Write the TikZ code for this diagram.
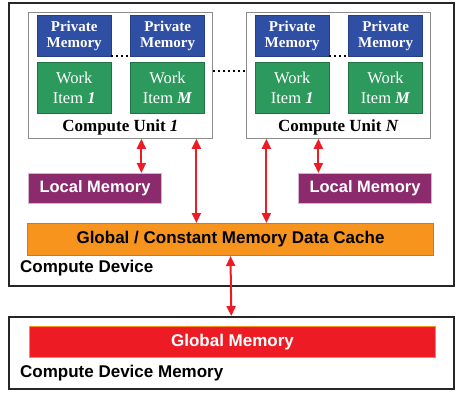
\documentclass[tikz,border=0pt]{standalone}
\usepackage{fontspec}
\setmainfont{Liberation Serif}
\setsansfont{Liberation Sans}
\usetikzlibrary{arrows.meta,positioning}

\definecolor{pmblue}{HTML}{2F4FA5}
\definecolor{wigreen}{HTML}{2B9A5C}
\definecolor{lmpurple}{HTML}{8C2A6E}
\definecolor{cacheorange}{HTML}{F7941D}
\definecolor{cacheedge}{HTML}{F26522}
\definecolor{gmred}{HTML}{ED1C24}

\tikzset{
  outerbox/.style={draw=black!85,line width=1.6pt,inner sep=0pt,anchor=north west},
  cubox/.style={draw=black!45,line width=0.8pt,fill=white,minimum width=184pt,
    minimum height=126pt,inner sep=0pt,anchor=north west},
  privmem/.style={draw=pmblue!80!black,fill=pmblue,text=white,minimum width=74pt,
    minimum height=41pt,align=center,inner sep=0pt,font=\fontsize{15}{16.5}\selectfont\bfseries},
  workitem/.style={draw=wigreen!75!black,fill=wigreen,text=white,minimum width=74pt,
    minimum height=51pt,align=center,inner sep=0pt,font=\fontsize{16.5}{20}\selectfont},
  localmem/.style={draw=lmpurple!35!white,line width=1pt,fill=lmpurple,text=white,
    minimum width=133pt,minimum height=30pt,inner sep=0pt,anchor=north west,
    font=\sffamily\bfseries\fontsize{16.5}{18}\selectfont},
  membar/.style={minimum width=406pt,minimum height=32pt,inner sep=0pt,line width=1pt,
    anchor=north west,font=\sffamily\bfseries\fontsize{17}{20}\selectfont},
  boxlabel/.style={anchor=west,inner sep=0pt,font=\sffamily\bfseries\fontsize{17}{20}\selectfont},
  unitlabel/.style={inner sep=0pt,font=\bfseries\fontsize{17}{18}\selectfont},
  link/.style={draw=gmred,line width=2pt,>={Triangle[width=9pt,length=10pt]},<->},
  gapdots/.style={line width=2pt,dash pattern=on 2pt off 3pt}
}

\begin{document}
\begin{tikzpicture}[x=1pt,y=-1pt]
\useasboundingbox (0,0) rectangle (474,407);
% outer frames
\node[outerbox,minimum width=445pt,minimum height=283pt] (device) at (8,2) {};
\node[outerbox,minimum width=445pt,minimum height=72pt] (devmem) at (8,316) {};
% compute units
\node[cubox] (cu1) at (28,12) {};
\node[cubox] (cuN) at (246,12) {};
% work items of unit 1
\node[privmem,anchor=north west] (pm11) at (37,15) {Private\\Memory};
\node[privmem,right=19pt of pm11] (pm1M) {Private\\Memory};
\node[workitem,below=6pt of pm11] (wi11) {Work\\Item \textbf{\textit{1}}};
\node[workitem,below=6pt of pm1M] (wi1M) {Work\\Item \textbf{\textit{M}}};
\node[unitlabel] (cu1label) at ([yshift=11pt]cu1.south) {Compute Unit \textit{1}};
% work items of unit N
\node[privmem,anchor=north west] (pmN1) at (255,15) {Private\\Memory};
\node[privmem,right=19pt of pmN1] (pmNM) {Private\\Memory};
\node[workitem,below=6pt of pmN1] (wiN1) {Work\\Item \textbf{\textit{1}}};
\node[workitem,below=6pt of pmNM] (wiNM) {Work\\Item \textbf{\textit{M}}};
\node[unitlabel] (cuNlabel) at ([yshift=11pt]cuN.south) {Compute Unit \textit{N}};
% dots
\draw[gapdots] (pm11.south east) -- (pm1M.south west);
\draw[gapdots] (pmN1.south east) -- (pmNM.south west);
\draw[gapdots] ([yshift=-59pt]cu1.north east) -- ([yshift=-59pt]cuN.north west);
% memories
\node[localmem] (local1) at (28,173) {Local Memory};
\node[localmem] (localN) at (298,173) {Local Memory};
\node[membar,draw=cacheedge,fill=cacheorange] (cache) at (27,223) {Global / Constant Memory Data Cache};
\node[membar,draw=cacheorange,fill=gmred,text=white,minimum height=31pt] (gmem) at (29,326) {Global Memory};
\node[boxlabel] (devlabel) at (20,268) {Compute Device};
\node[boxlabel] (memlabel) at (20,373) {Compute Device Memory};
% links
\draw[link] ([xshift=21pt]cu1.south) -- ([xshift=21pt]cu1.south |- local1.north);
\draw[link] ([xshift=76pt]cu1.south) -- ([xshift=76pt]cu1.south |- cache.north);
\draw[link] ([xshift=-72pt]cuN.south) -- ([xshift=-72pt]cuN.south |- cache.north);
\draw[link] ([xshift=-20pt]cuN.south) -- ([xshift=-20pt]cuN.south |- localN.north);
\draw[link] (cache.south) -- (devmem.north);
\end{tikzpicture}
\end{document}
